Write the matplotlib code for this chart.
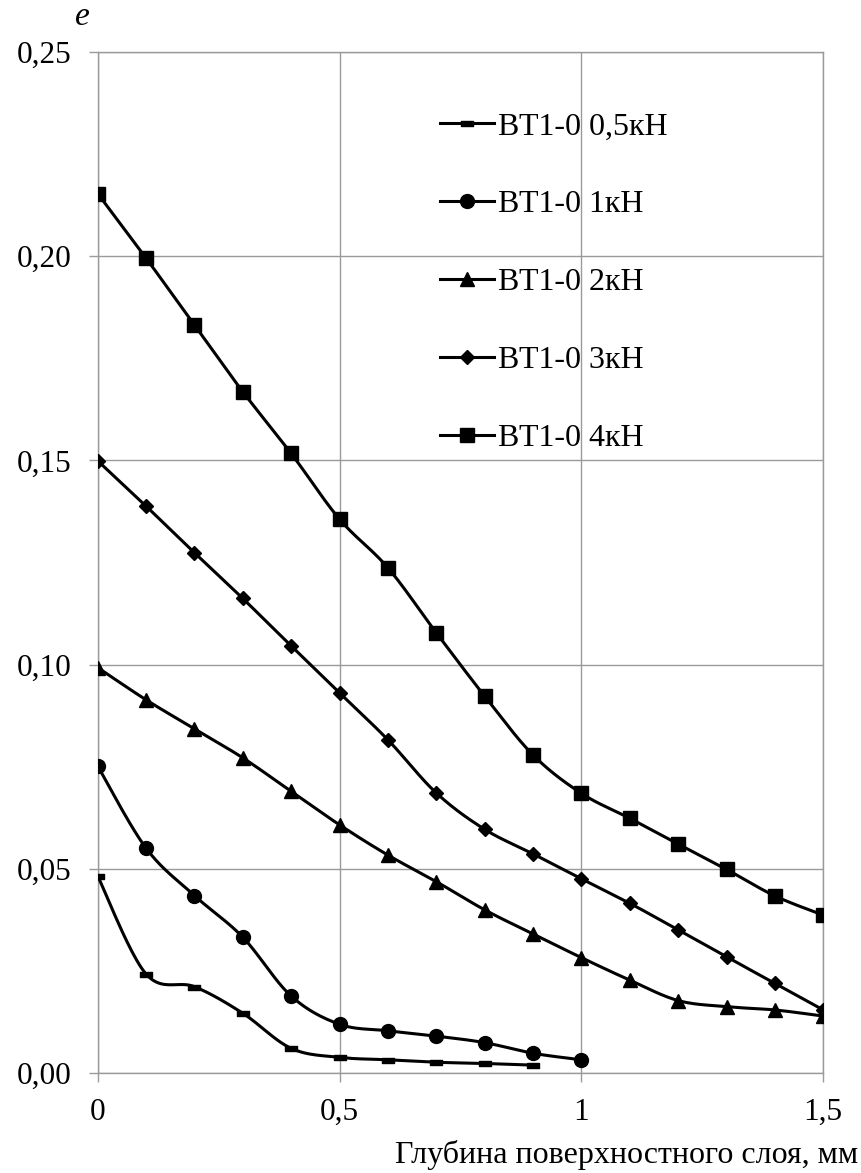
import numpy as np
import matplotlib
matplotlib.use("Agg")
import matplotlib.pyplot as plt
from matplotlib.ticker import FuncFormatter
from matplotlib.lines import Line2D
from matplotlib.path import Path

# Depth of the surface layer, mm
depth = [0.0, 0.1, 0.2, 0.3, 0.4, 0.5, 0.6, 0.7, 0.8, 0.9, 1.0, 1.1, 1.2, 1.3, 1.4, 1.5]

# Strain e for each load
e_05kN = [0.0483, 0.0243, 0.0212, 0.0147, 0.0061, 0.0039, 0.0033, 0.0027, 0.0024, 0.0020]
e_1kN = [0.0752, 0.0551, 0.0435, 0.0333, 0.0189, 0.0120, 0.0104, 0.0091, 0.0075, 0.0049, 0.0033]
e_2kN = [0.0993, 0.0914, 0.0843, 0.0772, 0.0690, 0.0608, 0.0534, 0.0469, 0.0400, 0.0341,
         0.0283, 0.0228, 0.0178, 0.0163, 0.0155, 0.0140]
e_3kN = [0.1499, 0.1388, 0.1274, 0.1162, 0.1046, 0.0931, 0.0816, 0.0686, 0.0597, 0.0537,
         0.0476, 0.0416, 0.0351, 0.0285, 0.0220, 0.0155]
e_4kN = [0.2153, 0.1995, 0.1831, 0.1668, 0.1517, 0.1356, 0.1237, 0.1078, 0.0923, 0.0779,
         0.0685, 0.0624, 0.0561, 0.0499, 0.0434, 0.0387]

labels = ["ВТ1-0 0,5кН", "ВТ1-0 1кН", "ВТ1-0 2кН", "ВТ1-0 3кН", "ВТ1-0 4кН"]
x_ticks = [0, 0.5, 1.0, 1.5]
y_ticks = [0.00, 0.05, 0.10, 0.15, 0.20, 0.25]

plt.rcParams['font.family'] = ['Liberation Serif', 'DejaVu Serif']

# short horizontal bar used as the marker of the lightest load
dash = Path([(-1, -0.45), (1, -0.45), (1, 0.45), (-1, 0.45), (-1, -0.45)],
            [Path.MOVETO, Path.LINETO, Path.LINETO, Path.LINETO, Path.CLOSEPOLY])

styles = [
    dict(marker=dash, ms=8),
    dict(marker='o', ms=10),
    dict(marker='^', ms=10),
    dict(marker='D', ms=7.5),
    dict(marker='s', ms=9.5),
]


def smooth_curve(x, y, n=24):
    """Bezier smoothing through every point (Catmull-Rom style)."""
    pts = np.column_stack([x, y]).astype(float)
    P = np.vstack([pts[0], pts, pts[-1]])
    out = []
    t = np.linspace(0, 1, n)[:, None]
    for i in range(1, len(P) - 2):
        p0, p1, p2, p3 = P[i - 1], P[i], P[i + 1], P[i + 2]
        c1 = p1 + (p2 - p0) / 6.0
        c2 = p2 - (p3 - p1) / 6.0
        seg = ((1 - t) ** 3) * p1 + 3 * ((1 - t) ** 2) * t * c1 + 3 * (1 - t) * t ** 2 * c2 + t ** 3 * p2
        out.append(seg if i == len(P) - 3 else seg[:-1])
    out = np.vstack(out)
    return out[:, 0], out[:, 1]


fig = plt.figure(figsize=(8.62, 11.73), dpi=100)
ax = fig.add_axes([0.1133, 0.0850, 0.8418, 0.8709])

series = [e_05kN, e_1kN, e_2kN, e_3kN, e_4kN]
lw = 2.2
for vals, st in zip(series, styles):
    xs = depth[:len(vals)]
    sx, sy = smooth_curve(xs, vals)
    ax.plot(sx, sy, color='black', lw=lw, solid_capstyle='butt', zorder=3)
    ax.plot(xs, vals, ls='none', color='black', zorder=4, **st)

ax.set_xlim(0, 1.5)
ax.set_ylim(0, 0.25)
ax.set_xticks(x_ticks)
ax.set_yticks(y_ticks)

ax.xaxis.set_major_formatter(FuncFormatter(lambda v, p: f"{v:g}".replace('.', ',')))
ax.yaxis.set_major_formatter(FuncFormatter(lambda v, p: f"{v:.2f}".replace('.', ',')))

grid_c = '#9a9a9a'
ax.grid(True, color=grid_c, lw=1.0)
ax.set_axisbelow(True)
for s in ax.spines.values():
    s.set_color(grid_c)
    s.set_linewidth(1.0)
ax.tick_params(axis='both', color=grid_c, length=6.5, width=1.0, labelsize=22.5,
               labelcolor='black')
ax.tick_params(axis='y', pad=12)
ax.tick_params(axis='x', pad=11)

# legend
handles = [Line2D([], [], color='black', lw=lw, **st) for st in styles]
leg = ax.legend(handles, labels, loc='upper left', bbox_to_anchor=(440 / 862, 1 - 112 / 1173),
                bbox_transform=fig.transFigure, frameon=False, fontsize=23,
                handlelength=1.69, handletextpad=0.12, labelspacing=1.52, borderpad=0,
                borderaxespad=0)

fig.text(858 / 862, 1 - 1163 / 1173, "Глубина поверхностного слоя, мм", ha='right',
         va='baseline', fontsize=23)
fig.text(75 / 862, 1 - 25 / 1173, "e", ha='left', va='baseline', fontsize=24, style='italic')

fig.savefig("out.png", dpi=100, facecolor='white')
